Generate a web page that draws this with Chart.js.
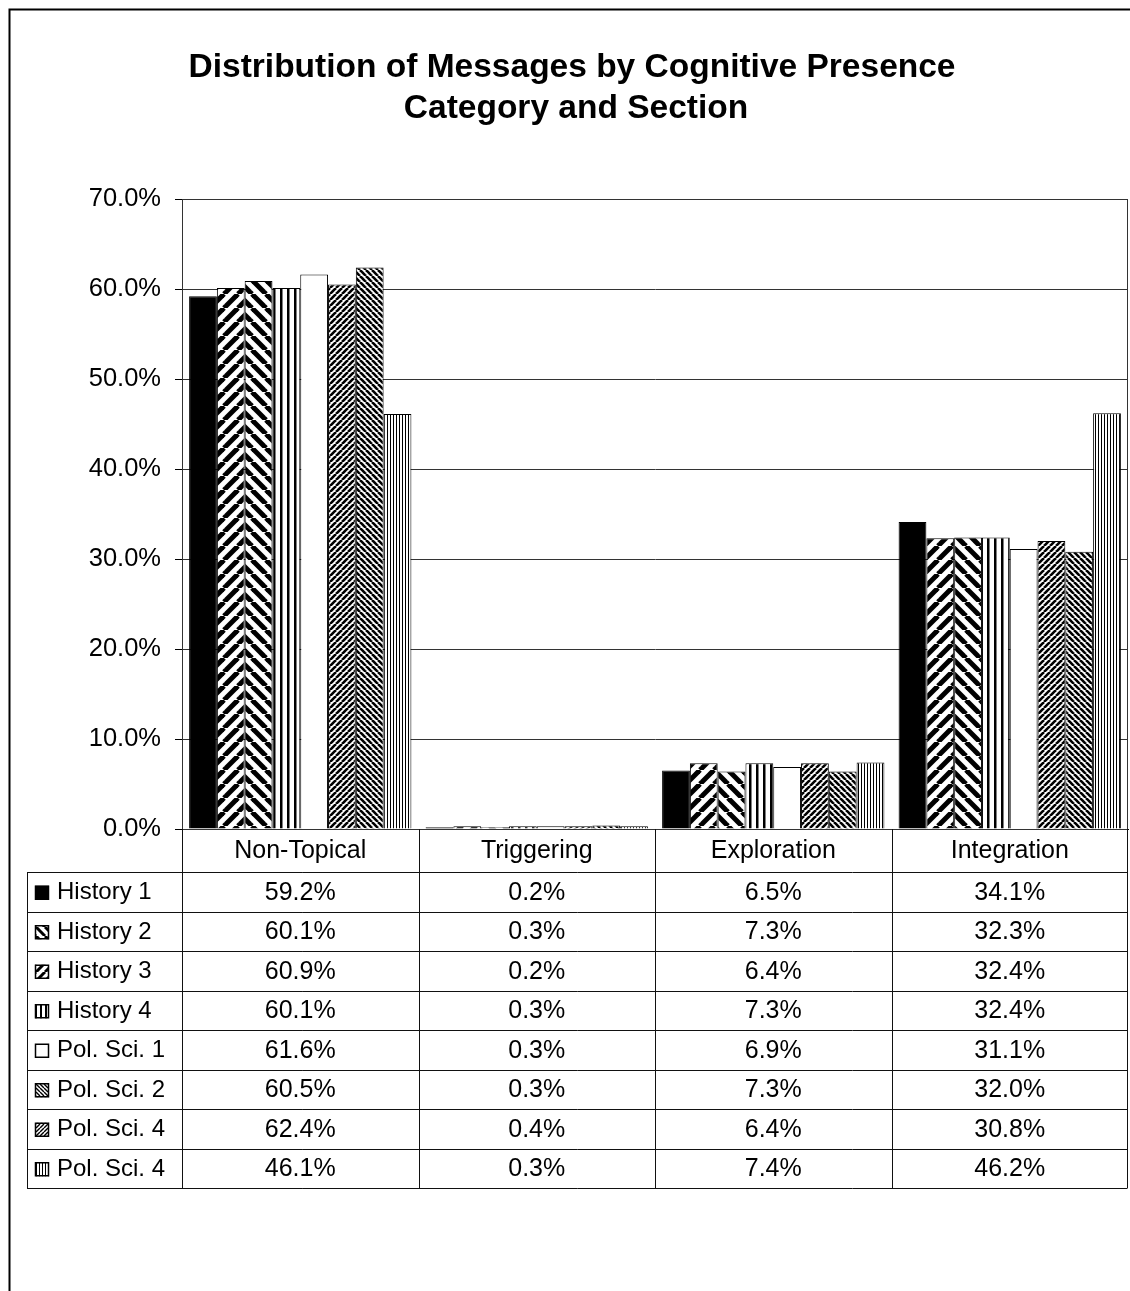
<!DOCTYPE html>
<html>
<head>
<meta charset="utf-8">
<title>Distribution of Messages by Cognitive Presence</title>
<script src="https://cdn.jsdelivr.net/npm/chart.js@4.4.1/dist/chart.umd.min.js"></script>
<style>
    html, body { margin: 0; padding: 0; background: #fff; }
    #wrap { width: 1130px; height: 1291px; position: relative; }
</style>
</head>
<body>
<div id="wrap"><canvas id="chart" width="1130" height="1291"></canvas></div>
<script>
const categories = ['Non-Topical', 'Triggering', 'Exploration', 'Integration'];
const sections = ['History 1', 'History 2', 'History 3', 'History 4', 'Pol. Sci. 1', 'Pol. Sci. 2', 'Pol. Sci. 4', 'Pol. Sci. 4'];

const history1 = [59.2, 0.2, 6.5, 34.1];
const history2 = [60.1, 0.3, 7.3, 32.3];
const history3 = [60.9, 0.2, 6.4, 32.4];
const history4 = [60.1, 0.3, 7.3, 32.4];
const polSci1 = [61.6, 0.3, 6.9, 31.1];
const polSci2 = [60.5, 0.3, 7.3, 32.0];
const polSci4a = [62.4, 0.4, 6.4, 30.8];
const polSci4b = [46.1, 0.3, 7.4, 46.2];

const seriesValues = [history1, history2, history3, history4, polSci1, polSci2, polSci4a, polSci4b];
const yTickValues = [0, 10, 20, 30, 40, 50, 60, 70];

const titleLines = ['Distribution of Messages by Cognitive Presence', 'Category and Section'];

const canvas = document.getElementById('chart');
const ctx = canvas.getContext('2d');

// fill textures, Excel-style
function makePattern(kind, size, lw) {
    if (kind === 'solid') return '#000';
    if (kind === 'white') return '#fff';
    const c = document.createElement('canvas');
    c.width = size;
    c.height = size;
    const g = c.getContext('2d');
    g.fillStyle = '#fff';
    g.fillRect(0, 0, size, size);
    g.strokeStyle = '#000';
    g.fillStyle = '#000';
    g.lineWidth = lw;
    if (kind === 'up' || kind === 'down') {
        for (let k = -1; k <= 1; k++) {
            g.beginPath();
            if (kind === 'up') {
                g.moveTo(k * size, size);
                g.lineTo(k * size + size, 0);
            } else {
                g.moveTo(k * size, 0);
                g.lineTo(k * size + size, size);
            }
            g.stroke();
        }
    } else if (kind === 'vert') {
        g.fillRect(0, 0, lw, size);
    }
    return ctx.createPattern(c, 'repeat');
}

const barFills = [
    makePattern('solid'),
    makePattern('up', 14, 5),
    makePattern('down', 14, 5),
    makePattern('vert', 7, 2.5),
    makePattern('white'),
    makePattern('up', 6, 2.6),
    makePattern('down', 6, 2.6),
    makePattern('vert', 3, 1)
];

const keyFills = [
    makePattern('solid'),
    makePattern('down', 9, 3),
    makePattern('up', 9, 3),
    makePattern('vert', 5, 2),
    makePattern('white'),
    makePattern('down', 4, 1.4),
    makePattern('up', 4, 1.4),
    makePattern('vert', 3, 1)
];

const FONT = '"Liberation Sans", Arial, sans-serif';

const tablePlugin = {
    id: 'tablePlugin',
    afterDraw(chart) {
        const c = chart.ctx;
        const area = chart.chartArea;
        const x = chart.scales.x;
        const half = (x.getPixelForValue(1) - x.getPixelForValue(0)) / 2;
        const legendLeft = 27;
        const headerTop = area.bottom;
        const headerH = 43;
        const rowH = 39.5;
        const tableBottom = headerTop + headerH + rowH * sections.length;

        c.save();

        // outer frame
        c.strokeStyle = '#000';
        c.lineWidth = 2;
        c.beginPath();
        c.moveTo(9.5, chart.height);
        c.lineTo(9.5, 9.5);
        c.lineTo(chart.width, 9.5);
        c.stroke();

        // title
        c.fillStyle = '#000';
        c.font = 'bold 33.5px ' + FONT;
        c.textAlign = 'center';
        c.textBaseline = 'middle';
        c.fillText(titleLines[0], 572, 68);
        c.fillText(titleLines[1], 576, 109);

        // plot box
        c.lineWidth = 1;
        c.strokeStyle = '#333';
        c.strokeRect(area.left + 0.5, area.top + 0.5, area.right - area.left - 1, area.bottom - area.top);

        // table grid
        c.strokeStyle = '#111';
        c.beginPath();
        categories.forEach((cat, i) => {
            const xl = Math.round(x.getPixelForValue(i) - half) + 0.5;
            c.moveTo(xl, headerTop);
            c.lineTo(xl, tableBottom);
        });
        const xr = Math.round(area.right) - 0.5;
        c.moveTo(xr, headerTop);
        c.lineTo(xr, tableBottom);
        c.moveTo(legendLeft + 0.5, headerTop + headerH);
        c.lineTo(legendLeft + 0.5, tableBottom);
        for (let r = 0; r <= sections.length; r++) {
            const yy = Math.round(headerTop + headerH + r * rowH) + 0.5;
            c.moveTo(legendLeft, yy);
            c.lineTo(xr, yy);
        }
        c.stroke();

        // header labels
        c.font = '25px ' + FONT;
        c.textAlign = 'center';
        categories.forEach((cat, i) => {
            c.fillText(cat, x.getPixelForValue(i), headerTop + headerH / 2 + 1);
        });

        // rows
        sections.forEach((name, r) => {
            const cy = headerTop + headerH + r * rowH + rowH / 2 + 1;
            c.fillStyle = keyFills[r];
            c.fillRect(35, cy - 7, 14, 14);
            c.strokeStyle = '#000';
            c.lineWidth = 1.5;
            c.strokeRect(35.5, cy - 6.5, 13, 13);
            c.fillStyle = '#000';
            c.textAlign = 'left';
            c.font = '24px ' + FONT;
            c.fillText(name, 57, cy);
            c.textAlign = 'center';
            c.font = '25px ' + FONT;
            seriesValues[r].forEach((v, i) => {
                c.fillText(v.toFixed(1) + '%', x.getPixelForValue(i), cy);
            });
        });

        c.restore();
    }
};

new Chart(ctx, {
    type: 'bar',
    data: {
        labels: categories,
        datasets: sections.map((name, i) => ({
            label: name,
            data: seriesValues[i],
            backgroundColor: barFills[i],
            borderColor: '#000',
            borderWidth: 1,
            barPercentage: 1,
            categoryPercentage: 0.94
        }))
    },
    options: {
        responsive: false,
        animation: false,
        devicePixelRatio: 1,
        layout: { padding: { top: 199, right: 2, bottom: 462, left: 0 } },
        scales: {
            x: {
                grid: { display: false, drawTicks: false },
                ticks: { display: false },
                border: { display: true, color: '#000' },
                afterFit: s => { s.height = 0; }
            },
            y: {
                min: 0,
                max: 70,
                afterBuildTicks: s => { s.ticks = yTickValues.map(v => ({ value: v })); },
                ticks: {
                    color: '#000',
                    font: { family: FONT, size: 25.5 },
                    padding: 14,
                    callback: v => v.toFixed(1) + '%'
                },
                grid: { color: '#333', tickLength: 7, tickColor: '#000' },
                border: { display: true, color: '#000' },
                afterFit: s => { s.width = 182; }
            }
        },
        plugins: {
            legend: { display: false },
            tooltip: { enabled: false },
            title: { display: false }
        }
    },
    plugins: [tablePlugin]
});
</script>
</body>
</html>
